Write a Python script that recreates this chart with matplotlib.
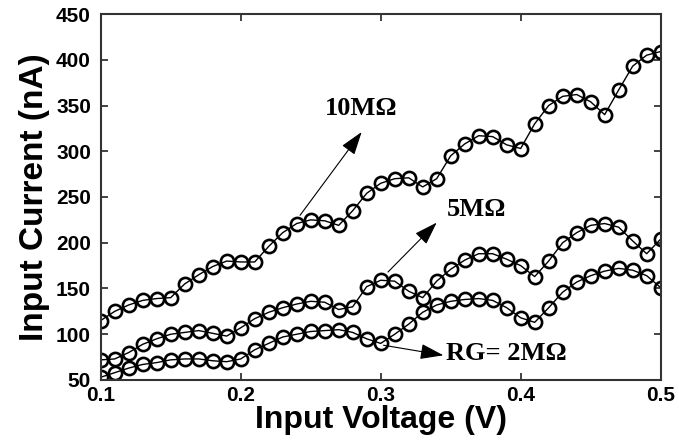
import numpy as np
import matplotlib
matplotlib.use("Agg")
import matplotlib.pyplot as plt

# Input voltage sweep (V)
voltage = [0.10, 0.11, 0.12, 0.13, 0.14, 0.15, 0.16, 0.17, 0.18, 0.19,
           0.20, 0.21, 0.22, 0.23, 0.24, 0.25, 0.26, 0.27, 0.28, 0.29,
           0.30, 0.31, 0.32, 0.33, 0.34, 0.35, 0.36, 0.37, 0.38, 0.39,
           0.40, 0.41, 0.42, 0.43, 0.44, 0.45, 0.46, 0.47, 0.48, 0.49, 0.50]

# Input current (nA) for each gate resistance
current_10M = [115, 125, 132, 137, 139, 140, 155, 165, 174, 180,
               179, 179, 196, 211, 221, 225, 224, 219, 235, 254,
               265, 270, 271, 261, 270, 295, 308, 317, 316, 307,
               303, 330, 350, 360, 362, 354, 340, 367, 393, 405, 409]
current_5M = [72, 73, 80, 89, 95, 100, 102, 104, 101, 98,
              107, 117, 124, 129, 133, 136, 135, 127, 130, 152,
              159, 158, 147, 140, 158, 171, 181, 188, 188, 182,
              175, 163, 180, 200, 211, 219, 221, 217, 202, 188, 204]
current_2M = [53, 58, 63, 67, 69, 72, 73, 73, 71, 70,
              73, 83, 90, 97, 100, 103, 104, 105, 102, 95,
              90, 100, 111, 124, 132, 136, 138, 139, 137, 129,
              118, 113, 129, 146, 157, 164, 169, 172, 170, 164, 151]

x_ticks = [0.1, 0.2, 0.3, 0.4, 0.5]
y_ticks = [50, 100, 150, 200, 250, 300, 350, 400, 450]

fig = plt.figure(figsize=(6.79, 4.46), dpi=100)
ax = fig.add_axes([0.1483, 0.148, 0.8247, 0.8206])

for series in (current_10M, current_5M, current_2M):
    ax.plot(voltage, series, color="black", lw=1.0, marker="o",
            markersize=9.5, markerfacecolor="none", markeredgecolor="black",
            markeredgewidth=1.9)

ax.set_xlim(0.1, 0.5)
ax.set_ylim(50, 450)
ax.set_xticks(x_ticks)
ax.set_yticks(y_ticks)
ax.set_xticklabels([f"{t:.1f}" for t in x_ticks])
ax.set_yticklabels([str(t) for t in y_ticks])

for lab in ax.get_xticklabels() + ax.get_yticklabels():
    lab.set_fontfamily("Liberation Sans")
    lab.set_fontweight("bold")
    lab.set_fontsize(15)

ax.tick_params(direction="in", length=5, width=1.2, top=True, right=True,
               colors="#222222", labelcolor="black")
ax.tick_params(axis="y", pad=7)
ax.tick_params(axis="x", pad=4)
for sp in ax.spines.values():
    sp.set_linewidth(1.5)
    sp.set_color("#333333")

ax.set_xlabel("Input Voltage (V)", family="Liberation Sans", weight="bold",
              size=23, labelpad=0)
ax.set_ylabel("Input Current (nA)", family="Liberation Sans", weight="bold",
              size=24, labelpad=4)

label_font = dict(family="Liberation Serif", weight="bold", size=19)
arrow = dict(arrowstyle="-|>,head_length=0.9,head_width=0.3", lw=0.8,
             color="black", mutation_scale=16, shrinkA=0, shrinkB=0)

ax.annotate("", xy=(0.2864, 321), xytext=(0.2424, 230), arrowprops=arrow)
ax.text(0.2860, 347, "10MΩ", ha="center", va="center", **label_font)

ax.annotate("", xy=(0.340, 222), xytext=(0.3052, 168), arrowprops=arrow)
ax.text(0.3685, 236, "5MΩ", ha="center", va="center", **label_font)

ax.annotate("", xy=(0.3448, 77), xytext=(0.302, 88), arrowprops=arrow)
ax.text(0.3470, 79, "RG= 2MΩ", ha="left", va="center", **label_font)

fig.savefig("out.png", dpi=100)
